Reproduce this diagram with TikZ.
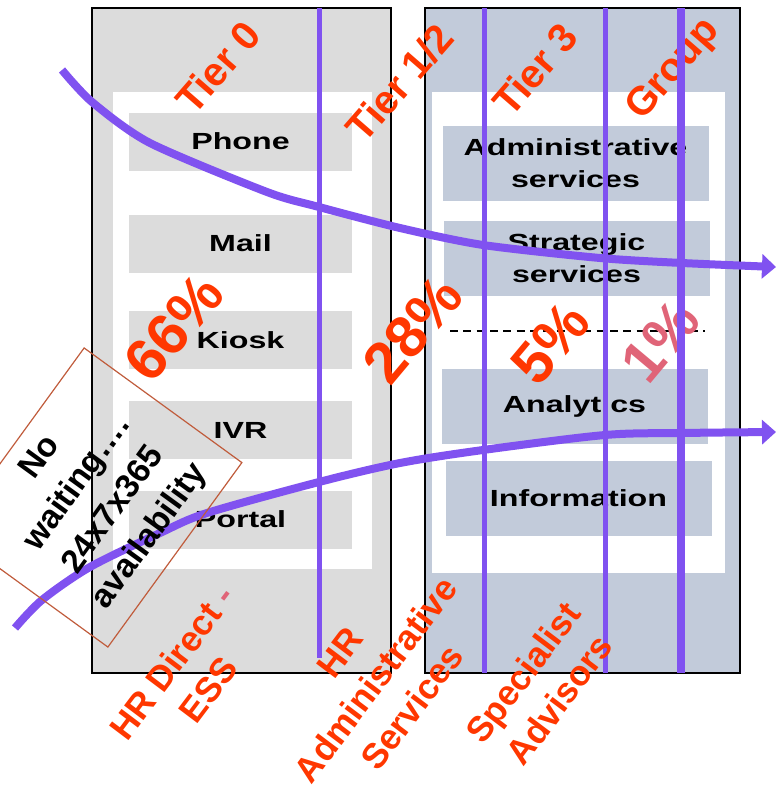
\documentclass[tikz,border=0pt]{standalone}
\usepackage{fontspec}
\setmainfont{Liberation Sans}
\newfontfamily\boxfont[FakeStretch=1.38]{Liberation Sans}
\usetikzlibrary{arrows.meta}

\definecolor{tierred}{RGB}{255,55,0}
\definecolor{softred}{RGB}{224,100,120}
\definecolor{flow}{RGB}{128,82,240}
\definecolor{panelgray}{RGB}{220,220,220}
\definecolor{panelblue}{RGB}{194,203,218}
\definecolor{notebrown}{RGB}{192,92,60}

\begin{document}
\begin{tikzpicture}[x=0.75pt,y=-0.75pt,
  panel/.style={draw=black,line width=1.1pt},
  chan/.style={fill=panelgray,inner sep=0pt,minimum width=167.25pt,minimum height=43.5pt,
    font=\boxfont\bfseries\fontsize{17.5}{24}\selectfont,align=center},
  svc/.style={fill=panelblue,inner sep=0pt,minimum width=199.5pt,minimum height=56.25pt,
    font=\boxfont\bfseries\fontsize{17.5}{24}\selectfont,align=center},
  tier/.style={text=tierred,inner sep=0pt,rotate=49,font=\bfseries\fontsize{30}{32}\selectfont},
  share/.style={text=tierred,inner sep=0pt,rotate=50,font=\bfseries\fontsize{44}{46}\selectfont},
  role/.style={text=tierred,inner sep=0pt,rotate=53,align=center,font=\bfseries\fontsize{26.5}{34}\selectfont},
  vline/.style={draw=flow,line width=3.75pt},
  flowline/.style={draw=flow,line width=6pt,-{Triangle[length=10.5pt,width=18pt]}}]

\useasboundingbox (0,0) rectangle (776,789);

% two panels with their white inner areas
\path[panel,fill=panelgray] (92,8) rectangle (391,673);
\path[fill=white] (113,92) rectangle (372,569);
\path[panel,fill=panelblue] (425,8) rectangle (740,673);
\path[fill=white] (432,92) rectangle (725,573);

% channels
\node[chan] (phone)  at (240.5,141.5) {Phone};
\node[chan] (mail)   at (240.5,243.5) {Mail};
\node[chan] (kiosk)  at (240.5,340)   {Kiosk};
\node[chan] (ivr)    at (240.5,430)   {IVR};
\node[chan] (portal) at (240.5,519.5) {Portal};

% services
\node[svc] (admin)    at (575.5,163.5) {Administrative\\services};
\node[svc] (strategy) at (576.5,258)   {Strategic\\services};
\node[svc] (analytic) at (574.5,406)   {Analytics};
\node[svc] (info)     at (578.5,498.5) {Information};

\coordinate (dashL) at (450,331);
\coordinate (dashR) at (705,331);
\draw[line width=0.9pt,dash pattern=on 6pt off 4pt] (dashL) -- (dashR);

% tier headings and shares
\node[tier] (t0)  at (218,67)  {Tier 0};
\node[tier] (t12) at (400,83)  {Tier 1/2};
\node[tier] (t3)  at (535,69)  {Tier 3};
\node[tier] (tg)  at (674,70)  {Group};

\node[share] (p66) at (174,328) {66\%};
\node[share] (p28) at (413,330) {28\%};
\node[share] (p5)  at (550,343) {5\%};
\node[share,text=softred] (p1) at (660,341) {1\%};

% tier boundaries
\coordinate (a1) at (319,8);   \coordinate (a2) at (319,658);
\coordinate (b1) at (484,8);   \coordinate (b2) at (484,673);
\coordinate (c1) at (605,8);   \coordinate (c2) at (605,673);
\coordinate (d1) at (681,8);   \coordinate (d2) at (681,673);
\draw[vline] (a1) -- (a2);
\draw[vline] (b1) -- (b2);
\draw[vline] (c1) -- (c2);
\draw[vline,line width=6pt] (d1) -- (d2);

% flow curves
\coordinate (u0) at (62,70);   \coordinate (u1) at (92,102);  \coordinate (u2) at (150,143);
\coordinate (u3) at (267,192); \coordinate (u4) at (319,207); \coordinate (u5) at (400,228);
\coordinate (u6) at (483,245); \coordinate (u7) at (600,258); \coordinate (u8) at (682,263);
\coordinate (u9) at (776,267);
\draw[flowline] plot[smooth,tension=0.45] coordinates {(u0) (u1) (u2) (u3) (u4) (u5) (u6) (u7) (u8) (u9)};

\coordinate (l0) at (15,628);  \coordinate (l1) at (42,600);  \coordinate (l2) at (90,567);
\coordinate (l3) at (160,533); \coordinate (l4) at (207,513); \coordinate (l5) at (319,482);
\coordinate (l6) at (400,463); \coordinate (l7) at (483,450); \coordinate (l8) at (605,435);
\coordinate (l9) at (682,433); \coordinate (l10) at (776,432);
\draw[flowline] plot[smooth,tension=0.5] coordinates {(l0) (l1) (l2) (l3) (l4) (l5) (l6) (l7) (l8) (l9) (l10)};

% availability note
\node[draw=notebrown,line width=0.9pt,rotate=54,minimum width=171pt,minimum height=146.25pt,
  inner sep=0pt,align=center,font=\bfseries\fontsize{25}{33.75}\selectfont] (note)
  at (96,497.5) {No\\waiting….\\24x7x365\\availability};

% role labels
\node[role] (ess)  at (190,676) {HR Direct {\color{softred}-}\\ESS};
\node[role] (has)  at (376,680) {HR\\Administrative\\Services};
\node[role] (spec) at (541,686) {Specialist\\Advisors};

\end{tikzpicture}
\end{document}
